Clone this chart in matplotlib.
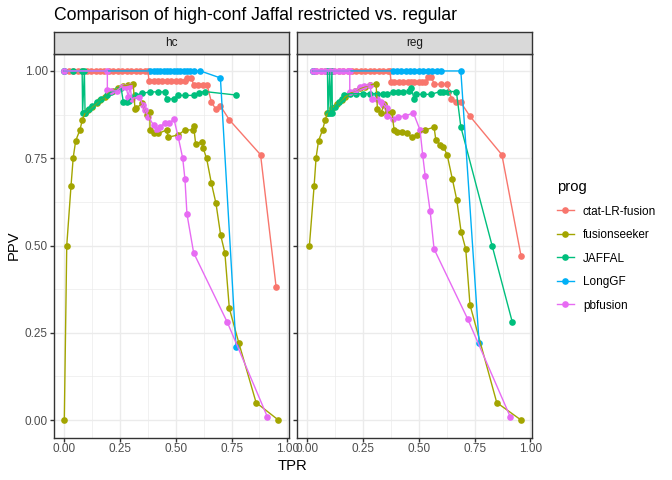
import matplotlib.pyplot as plt
from matplotlib.lines import Line2D

plt.rcParams['font.family'] = ['Liberation Sans', 'DejaVu Sans']

progs = ['ctat-LR-fusion', 'fusionseeker', 'JAFFAL', 'LongGF', 'pbfusion']
colors = ['#F8766D', '#A3A500', '#00BF7D', '#00B0F6', '#E76BF3']
facets = ['hc', 'reg']

# ---- hc ----
hc_ctat_tpr = [0.0, 0.02, 0.04, 0.06, 0.08, 0.10, 0.12, 0.14, 0.16, 0.18, 0.20, 0.22, 0.24, 0.26,
               0.28, 0.30, 0.32, 0.34, 0.36, 0.375, 0.38, 0.40, 0.42, 0.44, 0.46, 0.48, 0.50, 0.52,
               0.54, 0.55, 0.57, 0.58, 0.60, 0.62, 0.64, 0.66, 0.68, 0.70, 0.74, 0.88, 0.95]
hc_ctat_ppv = [1.0, 1.0, 1.0, 1.0, 1.0, 1.0, 1.0, 1.0, 1.0, 1.0, 1.0, 1.0, 1.0, 1.0,
               1.0, 1.0, 1.0, 1.0, 1.0, 1.0, 0.97, 0.97, 0.97, 0.97, 0.97, 0.97, 0.97, 0.97,
               0.97, 0.98, 0.98, 0.96, 0.96, 0.96, 0.96, 0.91, 0.89, 0.90, 0.86, 0.76, 0.38]

hc_fs_tpr = [0.0, 0.011, 0.03, 0.04, 0.051, 0.07, 0.081, 0.093, 0.108, 0.126, 0.145, 0.16, 0.183,
             0.197, 0.22, 0.242, 0.265, 0.287, 0.309, 0.317, 0.321, 0.35, 0.37, 0.384, 0.384, 0.40,
             0.422, 0.459, 0.466, 0.511, 0.541, 0.578, 0.58, 0.589, 0.616, 0.623, 0.638, 0.659,
             0.68, 0.701, 0.72, 0.74, 0.783, 0.86, 0.96]
hc_fs_ppv = [0.0, 0.50, 0.67, 0.752, 0.80, 0.831, 0.86, 0.879, 0.888, 0.898, 0.908, 0.917, 0.926,
             0.936, 0.944, 0.95, 0.957, 0.96, 0.963, 0.89, 0.893, 0.907, 0.874, 0.883, 0.831, 0.821,
             0.821, 0.831, 0.81, 0.817, 0.831, 0.831, 0.842, 0.791, 0.797, 0.778, 0.75, 0.68,
             0.621, 0.53, 0.479, 0.32, 0.22, 0.05, 0.0]

hc_jaffal_tpr = [0.0, 0.04, 0.08, 0.082, 0.09, 0.093, 0.11, 0.125, 0.145, 0.165, 0.19, 0.21, 0.235,
                 0.255, 0.265, 0.28, 0.29, 0.315, 0.35, 0.385, 0.42, 0.45, 0.46, 0.49, 0.51, 0.54,
                 0.58, 0.605, 0.63, 0.77]
hc_jaffal_ppv = [1.0, 1.0, 1.0, 0.88, 1.0, 0.88, 0.89, 0.90, 0.91, 0.92, 0.93, 0.94, 0.945,
                 0.95, 0.91, 0.91, 0.915, 0.93, 0.936, 0.94, 0.94, 0.94, 0.92, 0.92, 0.93, 0.93,
                 0.93, 0.938, 0.941, 0.931]

hc_longgf_tpr = [0.0, 0.385, 0.40, 0.415, 0.43, 0.445, 0.46, 0.475, 0.49, 0.505, 0.52, 0.535,
                 0.55, 0.565, 0.58, 0.61, 0.70, 0.77]
hc_longgf_ppv = [1.0, 1.0, 1.0, 1.0, 1.0, 1.0, 1.0, 1.0, 1.0, 1.0, 1.0, 1.0,
                 1.0, 1.0, 1.0, 1.0, 0.98, 0.21]

hc_pb_tpr = [0.0, 0.193, 0.193, 0.21, 0.235, 0.257, 0.277, 0.287, 0.295, 0.302, 0.336, 0.352,
             0.362, 0.377, 0.40, 0.414, 0.429, 0.452, 0.471, 0.492, 0.511, 0.531, 0.541, 0.55,
             0.58, 0.731, 0.91]
hc_pb_ppv = [1.0, 1.0, 0.946, 0.943, 0.943, 0.955, 0.953, 0.926, 0.957, 0.921, 0.926, 0.903,
             0.888, 0.869, 0.845, 0.831, 0.84, 0.852, 0.852, 0.861, 0.81, 0.75, 0.69, 0.59,
             0.479, 0.28, 0.01]

# ---- reg ----
reg_ctat_tpr = [0.026, 0.04, 0.06, 0.08, 0.10, 0.12, 0.14, 0.16, 0.18, 0.20, 0.22, 0.24, 0.26,
                0.28, 0.30, 0.32, 0.34, 0.36, 0.37, 0.375, 0.39, 0.41, 0.43, 0.45, 0.465, 0.48,
                0.50, 0.515, 0.528, 0.541, 0.556, 0.568, 0.598, 0.627, 0.646, 0.668, 0.688,
                0.728, 0.872, 0.958]
reg_ctat_ppv = [1.0, 1.0, 1.0, 1.0, 1.0, 1.0, 1.0, 1.0, 1.0, 1.0, 1.0, 1.0, 1.0,
                1.0, 1.0, 1.0, 1.0, 1.0, 1.0, 0.968, 0.968, 0.968, 0.968, 0.968, 0.968, 0.968,
                0.968, 0.968, 0.968, 0.984, 0.984, 0.962, 0.962, 0.962, 0.921, 0.91, 0.91,
                0.871, 0.76, 0.47]

reg_fs_tpr = [0.009, 0.03, 0.039, 0.05, 0.068, 0.08, 0.09, 0.109, 0.132, 0.154, 0.169, 0.191,
              0.214, 0.236, 0.258, 0.281, 0.308, 0.314, 0.33, 0.345, 0.356, 0.378, 0.389, 0.40,
              0.423, 0.445, 0.468, 0.49, 0.528, 0.568, 0.576, 0.595, 0.61, 0.627, 0.65, 0.67,
              0.689, 0.71, 0.729, 0.849, 0.958]
reg_fs_ppv = [0.50, 0.67, 0.752, 0.80, 0.831, 0.86, 0.88, 0.893, 0.905, 0.917, 0.926, 0.936,
              0.943, 0.95, 0.955, 0.96, 0.963, 0.89, 0.88, 0.905, 0.88, 0.883, 0.831, 0.826,
              0.826, 0.821, 0.81, 0.817, 0.831, 0.839, 0.802, 0.788, 0.783, 0.759, 0.69, 0.63,
              0.54, 0.49, 0.33, 0.05, 0.0]

reg_jaffal_tpr = [0.026, 0.09, 0.092, 0.10, 0.103, 0.11, 0.112, 0.123, 0.14, 0.155, 0.166, 0.19,
                  0.22, 0.25, 0.28, 0.31, 0.34, 0.355, 0.385, 0.407, 0.43, 0.455, 0.466, 0.478,
                  0.489, 0.519, 0.556, 0.594, 0.609, 0.631, 0.668, 0.688, 0.828, 0.919]
reg_jaffal_ppv = [1.0, 1.0, 0.88, 1.0, 0.88, 1.0, 0.88, 0.898, 0.91, 0.92, 0.931, 0.935,
                  0.935, 0.935, 0.935, 0.935, 0.933, 0.933, 0.94, 0.94, 0.94, 0.942, 0.95, 0.92,
                  0.933, 0.933, 0.933, 0.941, 0.941, 0.941, 0.941, 0.84, 0.50, 0.28]

reg_longgf_tpr = [0.026, 0.385, 0.40, 0.42, 0.44, 0.46, 0.48, 0.50, 0.52, 0.54, 0.56, 0.58,
                  0.60, 0.688, 0.77]
reg_longgf_ppv = [1.0, 1.0, 1.0, 1.0, 1.0, 1.0, 1.0, 1.0, 1.0, 1.0, 1.0, 1.0,
                  1.0, 1.0, 0.22]

reg_pb_tpr = [0.026, 0.04, 0.06, 0.08, 0.10, 0.12, 0.14, 0.16, 0.18, 0.19, 0.19, 0.214, 0.236,
              0.254, 0.281, 0.289, 0.314, 0.329, 0.341, 0.356, 0.359, 0.386, 0.408, 0.438, 0.475,
              0.505, 0.517, 0.528, 0.55, 0.568, 0.719, 0.909]
reg_pb_ppv = [1.0, 1.0, 1.0, 1.0, 1.0, 1.0, 1.0, 1.0, 1.0, 1.0, 0.941, 0.943, 0.953,
              0.957, 0.96, 0.921, 0.919, 0.912, 0.903, 0.893, 0.871, 0.862, 0.869, 0.871, 0.88,
              0.831, 0.759, 0.70, 0.60, 0.49, 0.289, 0.01]

data = {
    'hc': [(hc_ctat_tpr, hc_ctat_ppv), (hc_fs_tpr, hc_fs_ppv), (hc_jaffal_tpr, hc_jaffal_ppv),
           (hc_longgf_tpr, hc_longgf_ppv), (hc_pb_tpr, hc_pb_ppv)],
    'reg': [(reg_ctat_tpr, reg_ctat_ppv), (reg_fs_tpr, reg_fs_ppv), (reg_jaffal_tpr, reg_jaffal_ppv),
            (reg_longgf_tpr, reg_longgf_ppv), (reg_pb_tpr, reg_pb_ppv)],
}

W, H = 672, 480
fig = plt.figure(figsize=(6.72, 4.8), dpi=100)

panel_left = [53.6, 296.7]
panel_w = 235.5
panel_top, panel_bot = 53.5, 437.5
strip_top = 31.7

ticks = [0.0, 0.25, 0.5, 0.75, 1.0]
minor = [0.125, 0.375, 0.625, 0.875]

for i, facet in enumerate(facets):
    ax = fig.add_axes([panel_left[i] / W, 1 - panel_bot / H, panel_w / W, (panel_bot - panel_top) / H])
    ax.set_xlim(-0.048, 1.008)
    ax.set_ylim(-0.05, 1.05)
    ax.set_xticks(ticks)
    ax.set_xticklabels(['0.00', '0.25', '0.50', '0.75', '1.00'])
    ax.set_yticks(ticks)
    ax.set_xticks(minor, minor=True)
    ax.set_yticks(minor, minor=True)
    if i == 0:
        ax.set_yticklabels(['0.00', '0.25', '0.50', '0.75', '1.00'])
    else:
        ax.set_yticklabels([])
        ax.tick_params(axis='y', length=0)
    ax.grid(True, which='major', color='#EBEBEB', linewidth=1.0)
    ax.grid(True, which='minor', color='#EBEBEB', linewidth=0.5)
    ax.set_axisbelow(True)
    ax.tick_params(which='major', length=2.6, width=1.0, color='#333333',
                   labelsize=8.45, labelcolor='#4D4D4D', pad=1.6)
    ax.tick_params(which='minor', length=0)
    for s in ax.spines.values():
        s.set_color('#333333')
        s.set_linewidth(1.0)

    # points first, then lines (as in the original layering)
    for (tpr, ppv), c in zip(data[facet], colors):
        ax.plot(tpr, ppv, linestyle='none', marker='o', markersize=4.8, color=c,
                markeredgewidth=0, zorder=2)
    for (tpr, ppv), c in zip(data[facet], colors):
        ax.plot(tpr, ppv, color=c, linewidth=1.0, zorder=3)

    sax = fig.add_axes([panel_left[i] / W, 1 - panel_top / H, panel_w / W, (panel_top - strip_top) / H])
    sax.set_facecolor('#D9D9D9')
    sax.set_xticks([])
    sax.set_yticks([])
    for s in sax.spines.values():
        s.set_color('#333333')
        s.set_linewidth(1.0)
    sax.text(0.5, 0.5, facet, ha='center', va='center', fontsize=8.45, color='#1A1A1A',
             transform=sax.transAxes)

fig.text(54 / W, 1 - 20 / H, 'Comparison of high-conf Jaffal restricted vs. regular',
         fontsize=12.7, va='baseline', ha='left', color='black')
fig.text(292.9 / W, 1 - 466 / H, 'TPR', fontsize=10.6, ha='center', va='center')
fig.text(14 / W, 1 - 245.5 / H, 'PPV', fontsize=10.6, ha='center', va='center', rotation=90)

handles = [Line2D([0], [0], color=c, linewidth=1.0, marker='o', markersize=4.8, markeredgewidth=0)
           for c in colors]
leg = fig.legend(handles, progs, loc='upper left', bbox_to_anchor=(546 / W, 1 - 169.5 / H),
                 frameon=False, fontsize=8.45, title='prog', title_fontsize=10.6,
                 handlelength=1.45, handletextpad=0.8, labelspacing=0.98)
leg._legend_box.align = 'left'

fig.savefig('out.png', dpi=100)
